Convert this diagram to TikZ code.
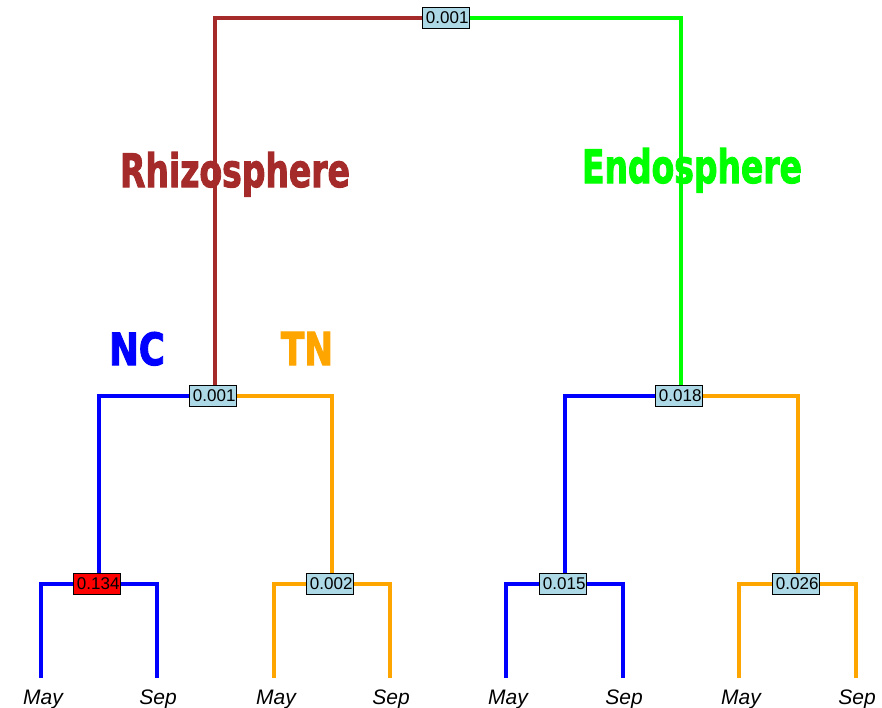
\documentclass[tikz,border=0pt]{standalone}
\usepackage{fontspec}
\usepackage{graphicx}
\setmainfont{Liberation Sans}
\newfontfamily\labfont{DejaVu Sans}[BoldFeatures={FakeBold=2.5}]
\definecolor{rbrown}{HTML}{A52A2A}
\definecolor{rgreen}{HTML}{00FF00}
\definecolor{rblue}{HTML}{0000FF}
\definecolor{rorange}{HTML}{FFA500}
\definecolor{rred}{HTML}{FF0000}
\definecolor{rlblue}{HTML}{ADD8E6}
\tikzset{
  branch/.style={line width=4.6pt},
  pbox/.style={draw=black, line width=1.3pt, fill=rlblue, minimum width=47pt, minimum height=21.5pt, inner sep=0pt, font=\fontsize{17}{17}\selectfont, xshift=-2pt},
  leaflab/.style={anchor=base, inner sep=0pt, font=\fontsize{21}{21}\selectfont\itshape},
  biglab/.style={anchor=base, inner sep=0pt}
}
\newcommand{\numtxt}[1]{\hspace*{2.5pt}#1}
\begin{document}
\begin{tikzpicture}[x=1pt,y=-1pt]
\useasboundingbox (0,0) rectangle (882,707);
% junctions
\coordinate (jr) at (448,18);
\coordinate (ja) at (215,396);
\coordinate (jb) at (681,396);
\coordinate (ja1) at (99,584);
\coordinate (ja2) at (332,584);
\coordinate (jb1) at (565,584);
\coordinate (jb2) at (798,584);
% leaf ends
\coordinate (l1) at (41,678);
\coordinate (l2) at (157,678);
\coordinate (l3) at (274,678);
\coordinate (l4) at (390,678);
\coordinate (l5) at (506,678);
\coordinate (l6) at (623,678);
\coordinate (l7) at (739,678);
\coordinate (l8) at (856,678);
% branches
\draw[branch, rbrown] (jr) -| (ja);
\draw[branch, rgreen] (jr) -| (jb);
\draw[branch, rblue] (ja) -| (ja1);
\draw[branch, rorange] (ja) -| (ja2);
\draw[branch, rblue] (jb) -| (jb1);
\draw[branch, rorange] (jb) -| (jb2);
\draw[branch, rblue] (ja1) -| (l1);
\draw[branch, rblue] (ja1) -| (l2);
\draw[branch, rorange] (ja2) -| (l3);
\draw[branch, rorange] (ja2) -| (l4);
\draw[branch, rblue] (jb1) -| (l5);
\draw[branch, rblue] (jb1) -| (l6);
\draw[branch, rorange] (jb2) -| (l7);
\draw[branch, rorange] (jb2) -| (l8);
% boxes
\node[pbox] (br) at (jr) {\numtxt{0.001}};
\node[pbox] (ba) at (ja) {\numtxt{0.001}};
\node[pbox] (bb) at (jb) {\numtxt{0.018}};
\node[pbox, fill=rred] (ba1) at (ja1) {\numtxt{0.134}};
\node[pbox] (ba2) at (ja2) {\numtxt{0.002}};
\node[pbox] (bb1) at (jb1) {\numtxt{0.015}};
\node[pbox] (bb2) at (jb2) {\numtxt{0.026}};
% leaf labels
\node[leaflab] (m1) at (43,704) {May};
\node[leaflab] (s1) at (158,704) {Sep};
\node[leaflab] (m2) at (276,704) {May};
\node[leaflab] (s2) at (391,704) {Sep};
\node[leaflab] (m3) at (508,704) {May};
\node[leaflab] (s3) at (624,704) {Sep};
\node[leaflab] (m4) at (741,704) {May};
\node[leaflab] (s4) at (857,704) {Sep};
% group labels
\node[biglab, text=rbrown] (rhizo) at (235,187) {\resizebox{230pt}{35pt}{\labfont\bfseries Rhizosphere}};
\node[biglab, text=rgreen] (endo) at (692,183) {\resizebox{220pt}{35pt}{\labfont\bfseries Endosphere}};
\node[biglab, text=rblue] (nc) at (137,365) {\resizebox{56pt}{33pt}{\labfont\bfseries NC}};
\node[biglab, text=rorange] (tn) at (307,365) {\resizebox{52pt}{33pt}{\labfont\bfseries TN}};
\end{tikzpicture}
\end{document}
